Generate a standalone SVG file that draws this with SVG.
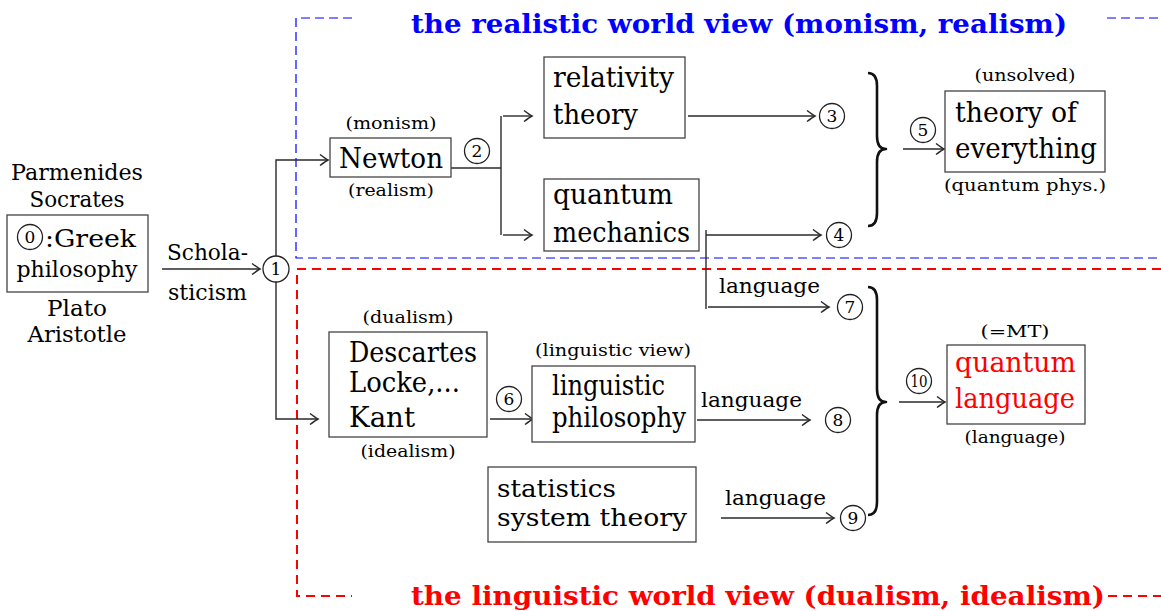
<svg xmlns="http://www.w3.org/2000/svg" width="1161" height="611" viewBox="0 0 1161 611" font-family="'DejaVu Serif', serif">
<defs>
<style>
text{font-family:"DejaVu Serif",serif;fill:#000}
.n{font-size:28px}
.l{font-size:22px}
.s{font-size:17px}
.g{font-size:21px}
.d{font-size:17px;text-anchor:middle}
.m{text-anchor:middle}
.box{fill:#fff;stroke:#444;stroke-width:1.3}
.cc{fill:#fff;stroke:#222;stroke-width:1.3}
.con{fill:none;stroke:#2a2a2a;stroke-width:1.4}
.br{fill:none;stroke:#111;stroke-width:2.6;stroke-linejoin:round}
.ti{font-size:26px;font-weight:bold}
</style>
<marker id="ar" viewBox="-10 -6 12 12" markerWidth="12" markerHeight="12" refX="0" refY="0" orient="auto" markerUnits="userSpaceOnUse">
<path d="M-8,-5.5 Q-2,-1 0,0 Q-2,1 -8,5.5" fill="none" stroke="#2a2a2a" stroke-width="1.4"/>
</marker>
</defs>
<rect width="1161" height="611" fill="#fff"/>

<g id="frames">
<path d="M352,18 H296 V258 H1161" fill="none" stroke="#0000ff" stroke-width="1.2" stroke-dasharray="9,5"/>
<path d="M1107,18 H1161" fill="none" stroke="#0000ff" stroke-width="1.2" stroke-dasharray="9,5"/>
<path d="M1161,269 H297 V596 H352" fill="none" stroke="#ff0000" stroke-width="2" stroke-dasharray="9,6"/>
<path d="M1108,596 H1161" fill="none" stroke="#ff0000" stroke-width="2" stroke-dasharray="9,6"/>
<text class="ti" x="411" y="33" textLength="656" lengthAdjust="spacingAndGlyphs" style="fill:#0000ff">the realistic world view (monism, realism)</text>
<text class="ti" x="411" y="605" textLength="694" lengthAdjust="spacingAndGlyphs" style="fill:#ff0000">the linguistic world view (dualism, idealism)</text>
</g>

<g id="connectors">
<path class="con" d="M162,269 H260" marker-end="url(#ar)"/>
<path class="con" d="M276,256 V160 H328" marker-end="url(#ar)"/>
<path class="con" d="M276,282 V419 H318" marker-end="url(#ar)"/>
<path class="con" d="M451,168 H501"/>
<path class="con" d="M501,116 V235"/>
<path class="con" d="M503,116 H532" marker-end="url(#ar)"/>
<path class="con" d="M503,235 H532" marker-end="url(#ar)"/>
<path class="con" d="M688,116 H815" marker-end="url(#ar)"/>
<path class="con" d="M706,235 H821" marker-end="url(#ar)"/>
<path class="con" d="M706,230 V309"/>
<path class="con" d="M708,307 H829" marker-end="url(#ar)"/>
<path class="con" d="M903,149 H944" marker-end="url(#ar)"/>
<path class="con" d="M490,419 H533" marker-end="url(#ar)"/>
<path class="con" d="M697,420 H810" marker-end="url(#ar)"/>
<path class="con" d="M721,518 H834" marker-end="url(#ar)"/>
<path class="con" d="M899,402 H945" marker-end="url(#ar)"/>
<path class="br" d="M868,73 Q877,73 877,86 L877,136 Q877,149 886,149 Q877,149 877,162 L877,213 Q877,226 868,226"/>
<path class="br" d="M868,287 Q877,287 877,300 L877,389 Q877,402 886,402 Q877,402 877,415 L877,502 Q877,515 868,515"/>
<text class="l" x="167" y="260" textLength="81" lengthAdjust="spacingAndGlyphs">Schola-</text>
<text class="l" x="168" y="300" textLength="79" lengthAdjust="spacingAndGlyphs">sticism</text>
<text class="g" x="719" y="293" textLength="101" lengthAdjust="spacingAndGlyphs">language</text>
<text class="g" x="701" y="407" textLength="101" lengthAdjust="spacingAndGlyphs">language</text>
<text class="g" x="725" y="505" textLength="101" lengthAdjust="spacingAndGlyphs">language</text>
</g>

<g id="greek">
<text class="l m" x="77" y="180" textLength="132" lengthAdjust="spacingAndGlyphs">Parmenides</text>
<text class="l m" x="77" y="207" textLength="95" lengthAdjust="spacingAndGlyphs">Socrates</text>
<rect class="box" x="7" y="215" width="141" height="77"/>
<circle class="cc" cx="30" cy="237" r="12.5"/>
<text class="d" x="30" y="243">0</text>
<text class="n" x="45" y="247" textLength="91" lengthAdjust="spacingAndGlyphs" style="font-size:25px">:Greek</text>
<text class="l m" x="77" y="277" textLength="121" lengthAdjust="spacingAndGlyphs">philosophy</text>
<text class="l m" x="77" y="316" textLength="60" lengthAdjust="spacingAndGlyphs">Plato</text>
<text class="l m" x="77" y="342" textLength="99" lengthAdjust="spacingAndGlyphs">Aristotle</text>
</g>

<g id="c1"><circle class="cc" cx="276" cy="269" r="13"/><text class="d" x="276" y="275">1</text></g>

<g id="newton">
<text class="s m" x="391" y="129" textLength="91" lengthAdjust="spacingAndGlyphs">(monism)</text>
<rect class="box" x="330" y="138" width="121" height="39"/>
<text class="n" x="339" y="168" textLength="104" lengthAdjust="spacingAndGlyphs">Newton</text>
<text class="s m" x="391" y="196" textLength="86" lengthAdjust="spacingAndGlyphs">(realism)</text>
</g>

<g id="c2"><circle class="cc" cx="477" cy="151" r="12.5"/><text class="d" x="477" y="157">2</text></g>

<g id="relativity">
<rect class="box" x="544" y="57" width="141" height="81"/>
<text class="n" x="553" y="87" textLength="121" lengthAdjust="spacingAndGlyphs">relativity</text>
<text class="n" x="553" y="124" textLength="85" lengthAdjust="spacingAndGlyphs">theory</text>
</g>

<g id="quantum">
<rect class="box" x="544" y="179" width="155" height="72"/>
<text class="n" x="553" y="204" textLength="120" lengthAdjust="spacingAndGlyphs">quantum</text>
<text class="n" x="553" y="242" textLength="137" lengthAdjust="spacingAndGlyphs">mechanics</text>
</g>

<g id="c3"><circle class="cc" cx="832" cy="116" r="12.5"/><text class="d" x="832" y="122">3</text></g>
<g id="c4"><circle class="cc" cx="839" cy="235" r="12.5"/><text class="d" x="839" y="241">4</text></g>
<g id="c5"><circle class="cc" cx="923" cy="130" r="12.5"/><text class="d" x="923" y="136">5</text></g>

<g id="toe">
<text class="s m" x="1025" y="81" textLength="101" lengthAdjust="spacingAndGlyphs">(unsolved)</text>
<rect class="box" x="945" y="91" width="160" height="81"/>
<text class="n" x="955" y="122" textLength="122" lengthAdjust="spacingAndGlyphs">theory of</text>
<text class="n" x="955" y="158" textLength="142" lengthAdjust="spacingAndGlyphs">everything</text>
<text class="s m" x="1025" y="191" textLength="162" lengthAdjust="spacingAndGlyphs">(quantum phys.)</text>
</g>

<g id="descartes">
<text class="s m" x="408" y="323" textLength="91" lengthAdjust="spacingAndGlyphs">(dualism)</text>
<rect class="box" x="329" y="332" width="158" height="105"/>
<text class="n" x="349" y="362" textLength="128" lengthAdjust="spacingAndGlyphs">Descartes</text>
<text class="n" x="349" y="392" textLength="111" lengthAdjust="spacingAndGlyphs">Locke,...</text>
<text class="n" x="349" y="427" textLength="66" lengthAdjust="spacingAndGlyphs">Kant</text>
<text class="s m" x="408" y="457" textLength="95" lengthAdjust="spacingAndGlyphs">(idealism)</text>
</g>

<g id="c6"><circle class="cc" cx="509" cy="399" r="12.5"/><text class="d" x="509" y="405">6</text></g>

<g id="lingphil">
<text class="s m" x="613" y="356" textLength="156" lengthAdjust="spacingAndGlyphs">(linguistic view)</text>
<rect class="box" x="532" y="366" width="163" height="76"/>
<text class="n" x="552" y="395" textLength="113" lengthAdjust="spacingAndGlyphs">linguistic</text>
<text class="n" x="552" y="427" textLength="134" lengthAdjust="spacingAndGlyphs">philosophy</text>
</g>

<g id="statistics">
<rect class="box" x="488" y="467" width="208" height="75"/>
<text class="n" x="497" y="497" textLength="119" lengthAdjust="spacingAndGlyphs" style="font-size:25px">statistics</text>
<text class="n" x="497" y="526" textLength="190" lengthAdjust="spacingAndGlyphs" style="font-size:25px">system theory</text>
</g>

<g id="c7"><circle class="cc" cx="850" cy="307" r="12.5"/><text class="d" x="850" y="313">7</text></g>
<g id="c8"><circle class="cc" cx="838" cy="420" r="12.5"/><text class="d" x="838" y="426">8</text></g>
<g id="c9"><circle class="cc" cx="853" cy="518" r="12.5"/><text class="d" x="853" y="524">9</text></g>
<g id="c10"><circle class="cc" cx="919" cy="381" r="12.5"/><text class="d" x="919" y="387" textLength="17" lengthAdjust="spacingAndGlyphs">10</text></g>

<g id="qlang">
<text class="s m" x="1015" y="337" textLength="69" lengthAdjust="spacingAndGlyphs">(=MT)</text>
<rect class="box" x="947" y="345" width="138" height="79"/>
<text class="n" x="955" y="372" textLength="121" lengthAdjust="spacingAndGlyphs" style="fill:#ff0000">quantum</text>
<text class="n" x="955" y="408" textLength="120" lengthAdjust="spacingAndGlyphs" style="fill:#ff0000">language</text>
<text class="s m" x="1015" y="443" textLength="101" lengthAdjust="spacingAndGlyphs">(language)</text>
</g>
</svg>
